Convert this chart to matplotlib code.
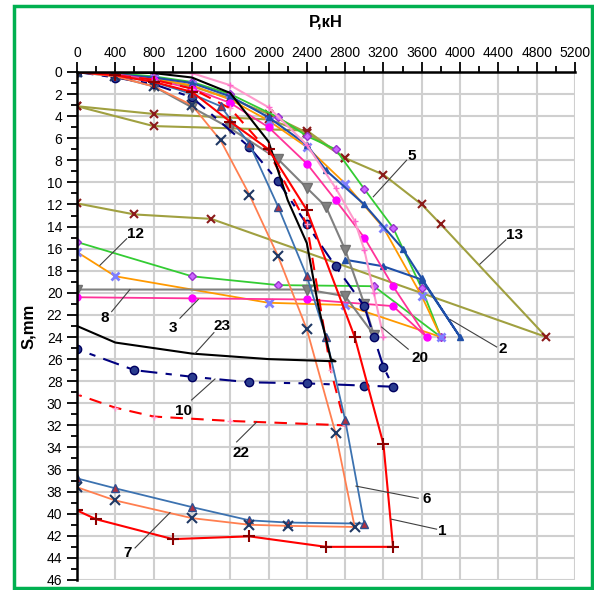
import matplotlib
matplotlib.use("Agg")
import matplotlib.pyplot as plt
from matplotlib.patches import Rectangle

plt.rcParams['font.family'] = ['Liberation Sans', 'DejaVu Sans']

# load P (kN) and settlement S (mm), loading branch then unloading branch
p1 = [0, 400, 800, 1200, 1600, 2000, 2400, 2900, 3200, 3300, 2600, 1800, 1000, 200, 0]
s1 = [0, 0.3, 0.9, 1.8, 4.5, 7.0, 12.5, 24.0, 33.7, 43.0, 43.0, 42.05, 42.3, 40.5, 39.7]

p2 = [0, 400, 800, 1200, 1600, 2000, 2400, 2600, 3000, 3400, 3600, 4000, 3600, 3200, 2800]
s2 = [0, 0.2, 0.5, 1.0, 2.2, 4.1, 6.6, 8.9, 12.0, 16.0, 18.7, 24.0, 18.8, 17.6, 17.0]

p3 = [0, 400, 800, 1200, 1600, 2000, 2400, 2700, 3000, 3300, 3650, 3300, 2400, 1200, 0]
s3 = [0, 0.2, 0.7, 1.5, 2.8, 5.0, 8.3, 11.6, 15.0, 19.4, 24.0, 21.2, 20.6, 20.5, 20.4]

p5 = [0, 400, 800, 1200, 1600, 2100, 2400, 2700, 3000, 3300, 3600, 3800, 3100, 2100, 1200, 0]
s5 = [0, 0.1, 0.4, 0.9, 2.0, 4.1, 5.8, 7.0, 10.6, 14.1, 19.6, 24.0, 19.4, 19.3, 18.5, 15.4]

p6 = [0, 400, 800, 1200, 1500, 1800, 2100, 2400, 2600, 2800, 3000, 2200, 1800, 1200, 400, 0]
s6 = [0, 0.3, 0.9, 2.0, 3.1, 6.5, 12.2, 18.5, 24.0, 31.5, 40.9, 40.8, 40.6, 39.4, 37.7, 36.8]

p7 = [0, 400, 800, 1200, 1500, 1800, 2100, 2400, 2700, 2900, 2200, 1800, 1200, 400, 0]
s7 = [0, 0.4, 1.3, 3.0, 6.2, 11.1, 16.7, 23.3, 32.7, 41.2, 41.1, 41.0, 40.4, 38.8, 37.6]

p8 = [0, 400, 800, 1200, 1600, 2100, 2400, 2600, 2800, 3000, 3100, 2800, 2400, 0]
s8 = [0, 0.4, 1.3, 3.2, 5.1, 7.9, 10.5, 12.2, 16.1, 21.0, 23.8, 20.3, 19.7, 19.7]

p10 = [0, 400, 800, 1200, 1800, 2100, 2400, 2700, 3000, 3100, 3200, 3300, 3000, 2400, 1800, 1200, 600, 0]
s10 = [0, 0.5, 1.1, 2.3, 6.8, 9.9, 13.8, 17.6, 21.2, 24.0, 26.7, 28.5, 28.4, 28.2, 28.1, 27.6, 27.0, 25.1]

p12 = [0, 400, 800, 1200, 1600, 2000, 2400, 2800, 3200, 3600, 3800, 2800, 2000, 400, 0]
s12 = [0, 0.2, 0.6, 1.2, 2.5, 4.4, 6.8, 10.1, 14.1, 20.3, 24.0, 21.1, 20.9, 18.5, 16.3]

p13 = [0, 400, 800, 1200, 1600, 2000, 2400, 2800, 3200, 3600, 3800, 4900, 1400, 600, 0]
s13 = [0, 0.2, 0.6, 1.3, 2.4, 3.8, 5.5, 7.8, 9.3, 12.0, 13.8, 24.0, 13.3, 12.9, 11.9]

p13a = [0, 800, 2000, 2400]
s13a = [3.1, 3.8, 4.3, 5.5]
p13b = [0, 800, 2400, 2800]
s13b = [3.1, 4.9, 5.3, 7.8]

p20 = [0, 400, 800, 1200, 1600, 2000, 2400, 2700, 2900, 3000, 3100, 3200]
s20 = [0, 0, 0, 0.1, 1.2, 3.2, 6.6, 10.5, 13.5, 16.1, 20.0, 24.0]

p22 = [0, 400, 800, 1200, 1600, 2000, 2400, 2650, 2800, 1600, 800, 400, 0]
s22 = [0, 0.3, 0.7, 1.5, 3.3, 7.2, 13.8, 27.0, 32.0, 31.6, 31.2, 30.4, 29.2]

p23 = [0, 400, 800, 1200, 1600, 2000, 2200, 2400, 2520, 2650, 2700, 2000, 1200, 400, 0]
s23 = [0, 0, 0.1, 0.5, 1.9, 6.3, 11.6, 15.5, 21.2, 26.0, 26.2, 26.0, 25.5, 24.5, 23.0]

# curve labels: text, text position, leader line end
lab_txt = ['5', '13', '12', '8', '3', '23', '10', '22', '7', '6', '1', '20', '2']
lab_pos = [(3494, 7.6), (4573, 14.8), (616, 14.7), (285, 22.3), (999, 23.2), (1510, 23.0),
           (1117, 30.7), (1712, 34.5), (529, 43.6), (3651, 38.7), (3818, 41.6), (3581, 25.9), (4447, 25.1)]
lab_from = [(3441, 8.0), (4479, 15.2), (519, 15.1), (362, 21.7), (1075, 22.3), (1430, 23.6),
            (1197, 29.7), (1667, 33.5), (606, 43.1), (3563, 38.6), (3755, 41.4), (3459, 25.1), (4382, 24.9)]
lab_to = [(3094, 11.3), (4207, 17.4), (240, 17.5), (553, 19.7), (1266, 20.6), (1232, 25.5),
          (1441, 27.8), (1876, 31.7), (971, 39.9), (2913, 37.5), (3285, 40.5), (3181, 23.1), (3894, 22.4)]

fig = plt.figure(figsize=(5.94, 5.90), dpi=100)
ax = fig.add_axes([0.1296, 0.017, 0.8384, 0.861])

olive = dict(color='#A0A040', lw=1.5, marker='x', mec='#8B1A1A', ms=6, mew=1.5)
ax.plot(p13a, s13a, **olive)
ax.plot(p13b, s13b, **olive)
ax.plot(p13, s13, **olive)
ax.plot(p5, s5, color='#33CC33', lw=1.3, marker='D', ms=4, mfc='#CC66FF', mec='#9933CC')
ax.plot(p12, s12, color='#FF9900', lw=1.3, marker='x', ms=6, mec='#7F7FFF', mew=2)
ax.plot(p2, s2, color='#1F4FA8', lw=1.5, marker='^', ms=4, mfc='#1F4FA8', mec='#1F4FA8')
ax.plot(p3, s3, color='#FF3399', lw=1.3, marker='o', ms=5, mfc='#FF00FF', mec='#FF00FF')
ax.plot(p20, s20, color='#FF99CC', lw=1.5, marker='+', ms=5, mec='#FF66CC')
ax.plot(p8, s8, color='#808080', lw=1.5, marker='v', ms=7, mfc='#808080', mec='#707070')
ax.plot(p10, s10, color='#000080', lw=1.5, ls=(0, (8, 4, 3, 4)), marker='o', ms=6,
        mfc='#2A3C8F', mec='#000060')
ax.plot(p22, s22, color='#FF0000', lw=1.5, ls=(0, (6, 4)), marker='+', ms=5, mec='#FF99CC')
ax.plot(p6, s6, color='#3C72B0', lw=1.3, marker='^', ms=6, mfc='#B03040', mec='#2F4F8F')
ax.plot(p7, s7, color='#FF7F50', lw=1.3, marker='x', ms=7, mec='#1F3864', mew=1.5)
ax.plot(p23, s23, color='black', lw=1.5)
ax.plot(p1, s1, color='#FF0000', lw=1.5, marker='+', ms=8, mec='#8B0000', mew=1.5)

for t, xy, a, b in zip(lab_txt, lab_pos, lab_from, lab_to):
    ax.text(xy[0], xy[1], t, fontsize=11, fontweight='bold', ha='center', va='center')
    ax.plot([a[0], b[0]], [a[1], b[1]], color='#404040', lw=0.8)

ax.set_xlim(0, 5200)
ax.set_ylim(46, 0)
ax.set_xticks(range(0, 5201, 400))
ax.set_xticks(range(0, 5201, 200), minor=True)
ax.set_yticks(range(0, 47, 2))
ax.set_yticks(range(0, 47, 1), minor=True)
ax.xaxis.tick_top()
ax.tick_params(axis='both', which='major', labelsize=10, length=7, width=1.3, direction='out')
ax.tick_params(axis='both', which='minor', length=4, width=1.3, direction='out')
ax.tick_params(axis='x', which='major', pad=1.5)
ax.grid(True, which='major', color='#CFCFCF', lw=1.5)
ax.set_axisbelow(True)
ax.spines['right'].set_visible(False)
ax.spines['bottom'].set_visible(False)
ax.spines['top'].set_linewidth(1.8)
ax.spines['left'].set_linewidth(1.8)
ax.set_xlabel('P,кН', fontsize=12, fontweight='bold')
ax.xaxis.set_label_position('top')
ax.xaxis.labelpad = 14
ax.set_ylabel('S,mm', fontsize=12, fontweight='bold')
ax.yaxis.labelpad = 8

fig.patches.append(Rectangle((14 / 594, 2 / 590), 578 / 594, 582 / 590, transform=fig.transFigure,
                             fill=False, edgecolor='#00B050', lw=2.5))

fig.savefig('out.png', dpi=100)
